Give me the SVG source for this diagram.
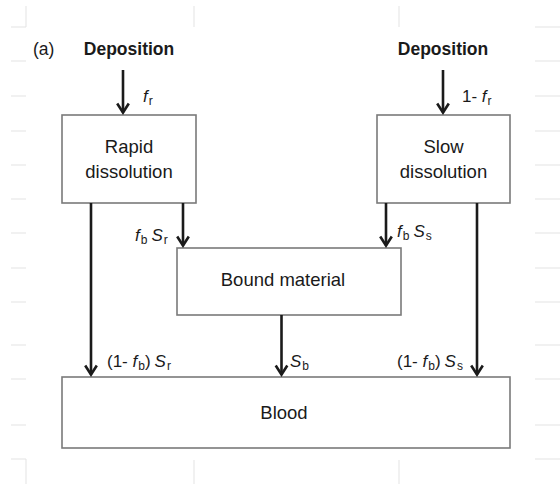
<svg xmlns="http://www.w3.org/2000/svg" width="560" height="484" viewBox="0 0 560 484">
  <style>
    .grid { stroke: #e3e3e3; stroke-width: 1; fill: none; }
    .box { fill: #ffffff; stroke: #7a7a7a; stroke-width: 1.6; }
    .flow { stroke: #1a1a1a; stroke-width: 2.6; fill: none; marker-end: url(#head); }
    text { font-family: "Liberation Sans", Arial, sans-serif; fill: #1a1a1a; }
    .title { font-size: 17.5px; font-weight: bold; text-anchor: middle; }
    .name { font-size: 18.5px; text-anchor: middle; }
    .lbl { font-size: 17px; }
    .it { font-style: italic; }
    .sub { font-size: 12px; }
  </style>
  <defs>
    <marker id="head" markerUnits="userSpaceOnUse" viewBox="-12 -8 16 16" markerWidth="16" markerHeight="16" refX="0" refY="0" orient="auto" overflow="visible">
      <path d="M-9,-5.8 L0,0 L-9,5.8" fill="none" stroke="#1a1a1a" stroke-width="2.6" stroke-linejoin="miter"/>
    </marker>
  </defs>

  <rect width="560" height="484" fill="#ffffff"/>

  <!-- sheet gridlines -->
  <g id="gridlines" class="grid">
    <path d="M11,27H26 M11,61H26 M11,96H26 M11,131H26 M11,165H26 M11,199H26 M11,233H26 M11,268H26 M11,302H26 M11,345H26 M11,379H26 M11,425H26 M11,459H26"/>
    <path d="M535,27H560 M535,61H560 M535,96H560 M535,131H560 M535,165H560 M535,199H560 M535,233H560 M535,268H560 M535,302H560 M535,345H560 M535,379H560 M535,425H560 M535,459H560"/>
    <path d="M26,6V27 M194,6V27 M399,6V27 M26,459V484 M194,460V484 M399,460V484"/>
  </g>

  <text x="33" y="55" class="lbl" style="font-size:17.5px">(a)</text>

  <g id="deposition-rapid">
    <text x="129" y="55" class="title">Deposition</text>
  </g>
  <g id="deposition-slow">
    <text x="443" y="55" class="title">Deposition</text>
  </g>

  <g id="rapid-dissolution">
    <rect class="box" x="62" y="115" width="134" height="88"/>
    <text x="129" y="153" class="name">Rapid</text>
    <text x="129" y="178" class="name">dissolution</text>
  </g>

  <g id="slow-dissolution">
    <rect class="box" x="377" y="115" width="133" height="88"/>
    <text x="443.5" y="153" class="name">Slow</text>
    <text x="443.5" y="178" class="name">dissolution</text>
  </g>

  <g id="bound-material">
    <rect class="box" x="177" y="248" width="224" height="67"/>
    <text x="283" y="286" class="name">Bound material</text>
  </g>

  <g id="blood">
    <rect class="box" x="62" y="377" width="448" height="71"/>
    <text x="284" y="419" class="name">Blood</text>
  </g>

  <!-- transfer routes -->
  <g id="connectors">
    <line class="flow" x1="123" y1="70" x2="123" y2="112.5"/>
    <line class="flow" x1="443" y1="70" x2="443" y2="112.5"/>
    <line class="flow" x1="183" y1="203" x2="183" y2="245.5"/>
    <line class="flow" x1="386" y1="203" x2="386" y2="245.5"/>
    <line class="flow" x1="91" y1="203" x2="91" y2="374.5"/>
    <line class="flow" x1="477" y1="203" x2="477" y2="374.5"/>
    <line class="flow" x1="281.5" y1="315" x2="281.5" y2="374.5"/>
  </g>

  <!-- route fractions -->
  <g id="labels" class="lbl">
    <text x="143" y="102"><tspan class="it">f</tspan><tspan class="sub" dx="1" dy="3">r</tspan></text>
    <text x="462" y="102">1- <tspan class="it">f</tspan><tspan class="sub" dx="1" dy="3">r</tspan></text>
    <text x="135" y="241"><tspan class="it">f</tspan><tspan class="sub" dx="1" dy="3">b</tspan><tspan dx="4" dy="-3" class="it">S</tspan><tspan class="sub" dx="1" dy="3">r</tspan></text>
    <text x="397" y="237"><tspan class="it">f</tspan><tspan class="sub" dx="1" dy="3">b</tspan><tspan dx="4" dy="-3" class="it">S</tspan><tspan class="sub" dx="1" dy="3">s</tspan></text>
    <text x="107" y="367">(1- <tspan class="it">f</tspan><tspan class="sub" dx="1" dy="3">b</tspan><tspan dy="-3">)</tspan><tspan dx="4" class="it">S</tspan><tspan class="sub" dx="1" dy="3">r</tspan></text>
    <text x="290" y="367"><tspan class="it">S</tspan><tspan class="sub" dx="1" dy="3">b</tspan></text>
    <text x="397" y="367">(1- <tspan class="it">f</tspan><tspan class="sub" dx="1" dy="3">b</tspan><tspan dy="-3">)</tspan><tspan dx="4" class="it">S</tspan><tspan class="sub" dx="1" dy="3">s</tspan></text>
  </g>
</svg>
